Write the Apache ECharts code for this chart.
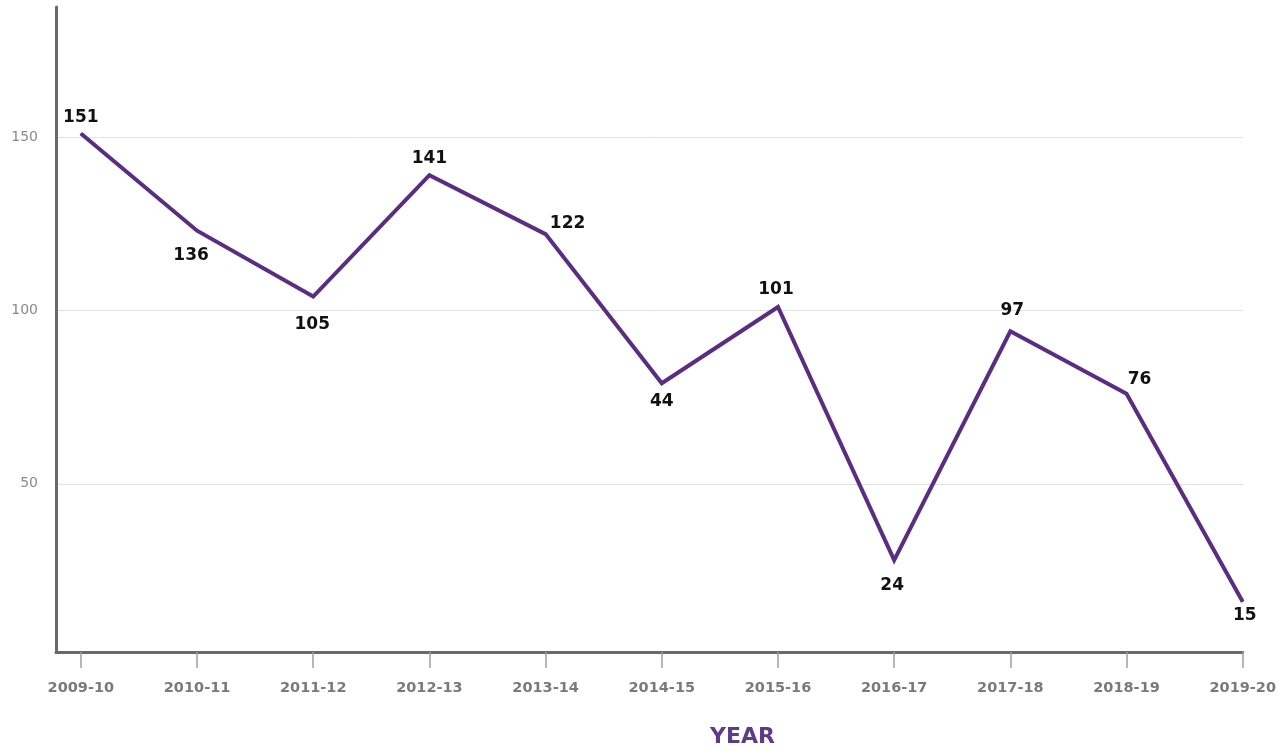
<!DOCTYPE html>
<html>
<head>
<meta charset="utf-8">
<script src="https://cdn.jsdelivr.net/npm/echarts@6/dist/echarts.min.js"></script>
<style>
html,body{margin:0;padding:0;background:#fff;}
#chart{width:1279px;height:751px;}
</style>
</head>
<body>
<div id="chart"></div>
<script>
// ---- data ----
const years = ['2009-10','2010-11','2011-12','2012-13','2013-14','2014-15','2015-16','2016-17','2017-18','2018-19','2019-20'];
const plotted = [151, 123, 104, 139, 122, 79, 101, 28, 94, 76, 16];
const labelTexts = [151, 136, 105, 141, 122, 44, 101, 24, 97, 76, 15];
const yTicks = [50, 100, 150];
const xTicks = [0, 1, 2, 3, 4, 5, 6, 7, 8, 9, 10];

// ---- label placement (style) ----
const labelOffsets = [[0,-16],[-6,25],[-1,28],[0,-17],[22,-11],[0,18],[-2,-17],[-2,25],[2,-21],[13,-14],[2,14]];

const seriesData = plotted.map((v, i) => ({
  value: [i, v],
  label: { offset: labelOffsets[i] }
}));

const chart = echarts.init(document.getElementById('chart'), null, {renderer: 'canvas'});
chart.setOption({
  animation: false,
  backgroundColor: '#ffffff',
  title: {
    text: 'YEAR',
    left: 710,
    top: 726,
    padding: 0,
    textStyle: { color: '#5e3b89', fontSize: 22, fontWeight: 'bold', fontFamily: 'DejaVu Sans' }
  },
  grid: { left: 56, right: 33, top: 7, bottom: 99, containLabel: false },
  xAxis: {
    type: 'value',
    min: -0.214,
    max: 10,
    axisLine: { show: true, onZero: false, lineStyle: { color: '#6a6a6a', width: 3 } },
    axisTick: { show: true, customValues: xTicks, length: 16, lineStyle: { color: '#a0a0a0', width: 1.5 } },
    axisLabel: {
      customValues: xTicks,
      formatter: v => years[Math.round(v)],
      color: '#7a7a7a', fontSize: 14.5, fontWeight: 'bold', fontFamily: 'DejaVu Sans', margin: 29
    },
    splitLine: { show: false }
  },
  yAxis: {
    type: 'value',
    min: 1.5,
    max: 187.5,
    axisLine: { show: true, onZero: false, lineStyle: { color: '#6a6a6a', width: 3 } },
    axisTick: { show: false, customValues: yTicks },
    axisLabel: { customValues: yTicks, color: '#8a8a8a', fontSize: 14, fontFamily: 'DejaVu Sans', margin: 18 },
    splitLine: { show: true, lineStyle: { color: '#e2e2e2', width: 1 } }
  },
  series: [{
    type: 'line',
    data: seriesData,
    symbol: 'circle',
    symbolSize: 1,
    showSymbol: true,
    itemStyle: { color: '#5a2d82' },
    lineStyle: { color: '#5a2d82', width: 4, join: 'miter' },
    label: {
      show: true,
      position: 'inside',
      formatter: p => String(labelTexts[p.dataIndex]),
      color: '#111111',
      fontSize: 17,
      fontWeight: 'bold',
      fontFamily: 'DejaVu Sans'
    }
  }]
});
</script>
</body>
</html>
